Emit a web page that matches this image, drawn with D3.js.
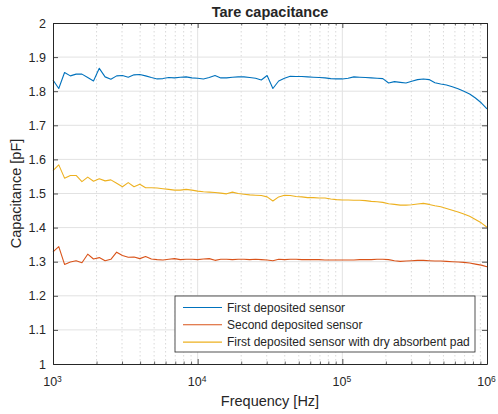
<!DOCTYPE html>
<html>
<head>
<meta charset="utf-8">
<script src="https://cdn.jsdelivr.net/npm/d3@7"></script>
<style>
  body { margin: 0; background: #fff; }
  text { font-family: "Liberation Sans", Arial, Helvetica, sans-serif; fill: #262626; }
</style>
</head>
<body>
<svg id="chart" width="498" height="414"></svg>
<script>
// Sweep frequencies [Hz], 25 points per decade
const freq = [
  1000, 1096, 1202, 1318, 1445, 1585, 1738, 1905, 2089, 2291, 2512, 2754, 3020, 3311, 3631, 3981, 4365, 4786, 5248, 5754, 6310, 6918, 7586, 8318, 9120,
  10000, 10960, 12020, 13180, 14450, 15850, 17380, 19050, 20890, 22910, 25120, 27540, 30200, 33110, 36310, 39810, 43650, 47860, 52480, 57540, 63100, 69180, 75860, 83180, 91200,
  100000, 109600, 120200, 131800, 144500, 158500, 173800, 190500, 208900, 229100, 251200, 275400, 302000, 331100, 363100, 398100, 436500, 478600, 524800, 575400, 631000, 691800, 758600, 831800, 912000,
  1000000
];

// Measured tare capacitance [pF]
const firstSensor = [
  1.833, 1.808, 1.855, 1.845, 1.850, 1.850, 1.840, 1.830, 1.867, 1.842, 1.835, 1.845, 1.846, 1.841, 1.848, 1.849, 1.845, 1.840, 1.836, 1.837, 1.840, 1.839, 1.841, 1.842, 1.839,
  1.838, 1.836, 1.840, 1.846, 1.839, 1.839, 1.841, 1.842, 1.842, 1.840, 1.838, 1.833, 1.846, 1.808, 1.830, 1.838, 1.844, 1.843, 1.843, 1.842, 1.841, 1.840, 1.839, 1.837, 1.836,
  1.836, 1.838, 1.842, 1.841, 1.840, 1.839, 1.838, 1.837, 1.824, 1.828, 1.826, 1.824, 1.829, 1.834, 1.836, 1.834, 1.825, 1.821, 1.818, 1.813, 1.807, 1.800, 1.792, 1.780, 1.766,
  1.748
];
const secondSensor = [
  1.329, 1.344, 1.292, 1.299, 1.303, 1.297, 1.322, 1.308, 1.312, 1.303, 1.307, 1.328, 1.318, 1.313, 1.314, 1.309, 1.315, 1.308, 1.306, 1.305, 1.307, 1.309, 1.306, 1.307, 1.307,
  1.306, 1.308, 1.309, 1.304, 1.307, 1.307, 1.306, 1.307, 1.307, 1.306, 1.307, 1.306, 1.305, 1.303, 1.307, 1.306, 1.307, 1.307, 1.306, 1.306, 1.306, 1.306, 1.305, 1.305, 1.305,
  1.305, 1.305, 1.305, 1.306, 1.306, 1.306, 1.307, 1.307, 1.306, 1.303, 1.301, 1.302, 1.303, 1.304, 1.304, 1.303, 1.302, 1.302, 1.301, 1.300, 1.299, 1.298, 1.296, 1.293, 1.290,
  1.285
];
const firstSensorPad = [
  1.567, 1.584, 1.545, 1.553, 1.553, 1.535, 1.548, 1.536, 1.543, 1.537, 1.540, 1.530, 1.520, 1.532, 1.520, 1.527, 1.517, 1.517, 1.516, 1.514, 1.512, 1.510, 1.510, 1.512, 1.510,
  1.507, 1.505, 1.504, 1.503, 1.501, 1.499, 1.504, 1.500, 1.498, 1.496, 1.495, 1.494, 1.490, 1.478, 1.490, 1.495, 1.494, 1.491, 1.490, 1.488, 1.488, 1.487, 1.487, 1.484, 1.482,
  1.481, 1.481, 1.480, 1.480, 1.479, 1.477, 1.476, 1.474, 1.470, 1.468, 1.466, 1.466, 1.467, 1.469, 1.471, 1.468, 1.464, 1.461, 1.456, 1.451, 1.446, 1.440, 1.433, 1.424, 1.414,
  1.401
];

const seriesNames = [
  "First deposited sensor",
  "Second deposited sensor",
  "First deposited sensor with dry absorbent pad"
];
const seriesColors = ["#0072BD", "#D95319", "#EDB120"];
const seriesValues = [firstSensor, secondSensor, firstSensorPad];

const xTicks = [1e3, 1e4, 1e5, 1e6];
const xTickExponents = ["3", "4", "5", "6"];
const yTicks = [1, 1.1, 1.2, 1.3, 1.4, 1.5, 1.6, 1.7, 1.8, 1.9, 2];

const svg = d3.select("#chart");
const plot = { left: 53, right: 487, top: 23, bottom: 364 };

const x = d3.scaleLog().domain([1e3, 1e6]).range([plot.left, plot.right]);
const y = d3.scaleLinear().domain([1, 2]).range([plot.bottom, plot.top]);

// minor decade positions 2..9 x 10^n
const minorTicks = [];
[1e3, 1e4, 1e5].forEach(d => { for (let k = 2; k <= 9; k++) minorTicks.push(k * d); });

// grid
const grid = svg.append("g");
grid.selectAll("line.minor").data(minorTicks).join("line")
  .attr("x1", d => x(d)).attr("x2", d => x(d))
  .attr("y1", plot.top).attr("y2", plot.bottom)
  .attr("stroke", "#cfcfcf").attr("stroke-width", 0.8).attr("stroke-dasharray", "1.5,2.5");
grid.selectAll("line.vmajor").data(xTicks.slice(1, -1)).join("line")
  .attr("x1", d => x(d)).attr("x2", d => x(d))
  .attr("y1", plot.top).attr("y2", plot.bottom)
  .attr("stroke", "#e2e2e2").attr("stroke-width", 1);
grid.selectAll("line.hmajor").data(yTicks.slice(1, -1)).join("line")
  .attr("x1", plot.left).attr("x2", plot.right)
  .attr("y1", d => y(d)).attr("y2", d => y(d))
  .attr("stroke", "#e2e2e2").attr("stroke-width", 1);

// data lines
const line = d3.line().x((d, i) => x(freq[i])).y(d => y(d));
seriesValues.forEach((vals, i) => {
  svg.append("path").datum(vals)
    .attr("d", line)
    .attr("fill", "none")
    .attr("stroke", seriesColors[i])
    .attr("stroke-width", 1.1)
    .attr("stroke-linejoin", "round");
});

// axes
const axisColor = "#262626";
function styleAxis(g) {
  g.select(".domain").attr("stroke", axisColor).attr("stroke-width", 1);
  g.selectAll(".tick line").attr("stroke", axisColor).attr("stroke-width", 0.8);
  g.selectAll("text").style("font-size", "12.5px").attr("fill", axisColor);
}

const xAxis = svg.append("g").attr("transform", `translate(0,${plot.bottom})`)
  .call(d3.axisBottom(x).tickValues(xTicks).tickSizeInner(-5).tickSizeOuter(0).tickPadding(9).tickFormat(() => ""))
  .call(styleAxis);
xAxis.selectAll(".tick text").each(function(d, i) {
  const t = d3.select(this).attr("x", -1).attr("dy", "1.05em");
  t.append("tspan").text("10");
  t.append("tspan").attr("dy", "-0.5em").style("font-size", "8.5px").text(xTickExponents[i]);
});
svg.append("g").attr("transform", `translate(0,${plot.bottom})`)
  .call(d3.axisBottom(x).tickValues(minorTicks).tickSizeInner(-2.5).tickSizeOuter(0).tickFormat(() => ""))
  .call(g => { g.select(".domain").remove(); g.selectAll(".tick line").attr("stroke", axisColor).attr("stroke-width", 0.7); });

svg.append("g").attr("transform", `translate(0,${plot.top})`)
  .call(d3.axisTop(x).tickValues(xTicks).tickSizeInner(-5).tickSizeOuter(0).tickFormat(() => ""))
  .call(styleAxis);
svg.append("g").attr("transform", `translate(0,${plot.top})`)
  .call(d3.axisTop(x).tickValues(minorTicks).tickSizeInner(-2.5).tickSizeOuter(0).tickFormat(() => ""))
  .call(g => { g.select(".domain").remove(); g.selectAll(".tick line").attr("stroke", axisColor).attr("stroke-width", 0.7); });

svg.append("g").attr("transform", `translate(${plot.left},0)`)
  .call(d3.axisLeft(y).tickValues(yTicks).tickSizeInner(-5).tickSizeOuter(0).tickPadding(7).tickFormat(d3.format("~g")))
  .call(styleAxis);
svg.append("g").attr("transform", `translate(${plot.right},0)`)
  .call(d3.axisRight(y).tickValues(yTicks).tickSizeInner(-5).tickSizeOuter(0).tickFormat(() => ""))
  .call(styleAxis);

// labels
svg.append("text").attr("x", 270).attr("y", 17).attr("text-anchor", "middle")
  .style("font-size", "14.5px").style("font-weight", "bold").text("Tare capacitance");
svg.append("text").attr("x", 270).attr("y", 406).attr("text-anchor", "middle")
  .style("font-size", "14.5px").text("Frequency [Hz]");
svg.append("text").attr("transform", `translate(21,${(plot.top + plot.bottom) / 2}) rotate(-90)`)
  .attr("text-anchor", "middle").style("font-size", "14.5px").text("Capacitance [pF]");

// legend
const legend = svg.append("g").attr("transform", "translate(175,296)");
legend.append("rect").attr("width", 300).attr("height", 56)
  .attr("fill", "#fff").attr("stroke", axisColor).attr("stroke-width", 0.8);
seriesNames.forEach((name, i) => {
  const cy = 11.5 + i * 17.3;
  legend.append("line").attr("x1", 8).attr("x2", 47).attr("y1", cy).attr("y2", cy)
    .attr("stroke", seriesColors[i]).attr("stroke-width", 1.1);
  legend.append("text").attr("x", 52).attr("y", cy).attr("dy", "0.35em")
    .style("font-size", "12px").text(name);
});
</script>
</body>
</html>
